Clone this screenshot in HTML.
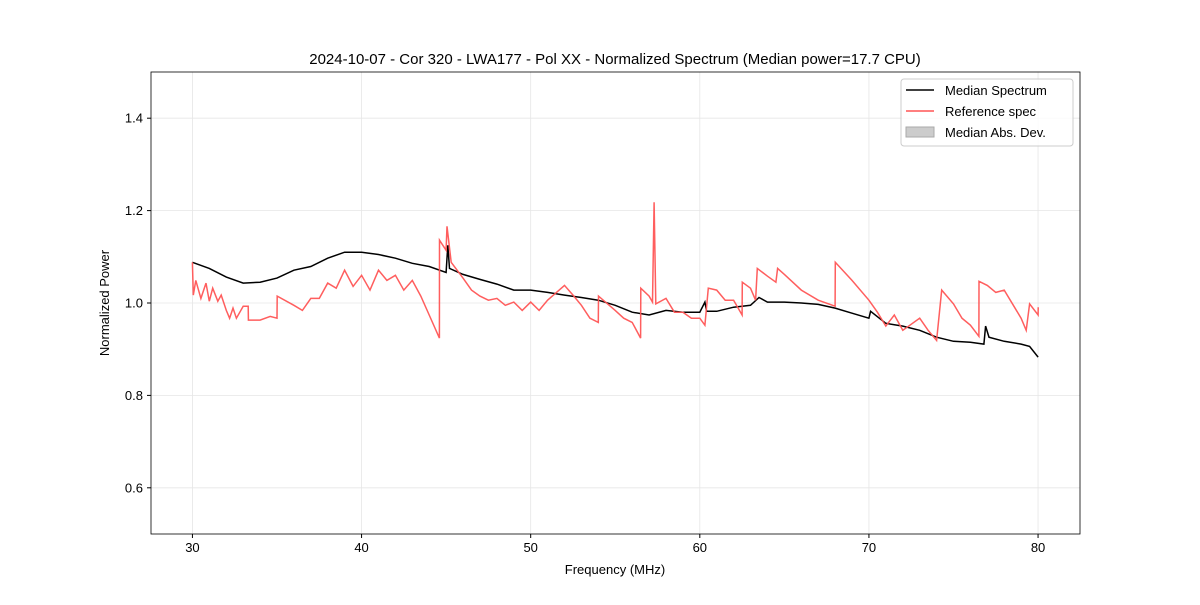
<!DOCTYPE html>
<html><head><meta charset="utf-8">
<style>
body{margin:0;background:#fff;font-family:"Liberation Sans","DejaVu Sans",sans-serif;}
svg text{font-family:"Liberation Sans","DejaVu Sans",sans-serif;}
</style></head>
<body>
<svg id="chart" width="1200" height="600" xmlns="http://www.w3.org/2000/svg">
<rect width="1200" height="600" fill="#fff"/>
<g id="grid"></g>
<g id="series"></g>
<rect x="151" y="72" width="929" height="462" fill="none" stroke="#000" stroke-width="0.8"/>
<g id="ticks"></g>
<text x="615" y="64" text-anchor="middle" font-size="15">2024-10-07 - Cor 320 - LWA177 - Pol XX - Normalized Spectrum (Median power=17.7 CPU)</text>
<text x="615" y="574" text-anchor="middle" font-size="13">Frequency (MHz)</text>
<text transform="translate(109,303) rotate(-90)" text-anchor="middle" font-size="13">Normalized Power</text>
<g>
<rect x="901" y="79" width="172" height="67" rx="3" fill="#fff" fill-opacity="0.8" stroke="#ccc"/>
<line x1="906" y1="90" x2="934" y2="90" stroke="#000" stroke-width="1.5"/>
<text x="945" y="95" font-size="13">Median Spectrum</text>
<line x1="906" y1="111" x2="934" y2="111" stroke="#ff5555" stroke-width="1.5"/>
<text x="945" y="116" font-size="13">Reference spec</text>
<rect x="906" y="127" width="28" height="10" fill="#ccc" stroke="#aaa"/>
<text x="945" y="137" font-size="13">Median Abs. Dev.</text>
</g>
</svg>
<script>
const xTicks=[30,40,50,60,70,80];
const yTicks=[0.6,0.8,1.0,1.2,1.4];
const yTickLabels=["0.6","0.8","1.0","1.2","1.4"];
const medianFreq=[30,31,32,33,34,35,36,37,38,39,40,41,42,43,44,45,45.1,45.2,46,47,48,49,50,51,52,53,54,55,56,57,58,59,60,60.3,60.4,61,62,63,63.5,64,65,66,67,68,69,70,70.1,71,72,73,74,75,76,76.8,76.9,77.1,78,79,79.5,80];
const medianVal=[1.088,1.075,1.056,1.043,1.045,1.054,1.071,1.079,1.097,1.110,1.110,1.105,1.097,1.086,1.079,1.066,1.125,1.075,1.062,1.051,1.041,1.028,1.028,1.023,1.017,1.012,1.006,0.995,0.980,0.974,0.984,0.980,0.980,1.002,0.982,0.982,0.991,0.995,1.012,1.002,1.002,1.000,0.997,0.989,0.978,0.967,0.982,0.956,0.950,0.941,0.926,0.917,0.915,0.911,0.950,0.926,0.917,0.911,0.906,0.883];
const refFreq=[30,30.05,30.2,30.5,30.8,31,31.2,31.5,31.7,32,32.2,32.4,32.6,33,33.3,33.31,34,34.6,35,35.01,36,36.5,37,37.5,38,38.5,39,39.5,40,40.5,41,41.5,42,42.5,43,43.5,44,44.6,44.61,45,45.05,45.3,46,46.5,47,47.5,48,48.5,49,49.5,50,50.5,51,52,52.5,53,53.5,54,54.01,55,55.5,56,56.5,56.51,57,57.2,57.3,57.4,58,58.5,59,59.5,60,60.3,60.5,61,61.5,62,62.5,62.51,63,63.3,63.4,64,64.5,64.6,65,66,67,68,68.01,69,70,70.5,71,71.5,72,73,73.5,74,74.3,75,75.5,76,76.5,76.51,77,77.5,78,79,79.3,79.5,80,80.01];
const refVal=[1.088,1.017,1.049,1.010,1.043,1.004,1.032,1.004,1.017,0.984,0.967,0.989,0.967,0.993,0.993,0.963,0.963,0.971,0.967,1.015,0.995,0.984,1.010,1.010,1.043,1.032,1.071,1.036,1.060,1.028,1.071,1.049,1.060,1.028,1.049,1.015,0.974,0.924,1.136,1.114,1.166,1.088,1.054,1.028,1.015,1.006,1.010,0.995,1.002,0.984,1.002,0.984,1.006,1.038,1.017,0.995,0.967,0.958,1.015,0.984,0.967,0.958,0.924,1.032,1.015,1.002,1.218,0.998,1.010,0.980,0.980,0.967,0.967,0.952,1.032,1.028,1.006,1.006,0.974,1.045,1.032,1.006,1.075,1.058,1.045,1.075,1.062,1.028,1.006,0.993,1.088,1.049,1.006,0.980,0.950,0.974,0.941,0.967,0.941,0.919,1.028,0.998,0.967,0.952,0.928,1.047,1.038,1.023,1.028,0.967,0.941,0.998,0.974,0.991];
const X0=151,X1=1080,Y0=534,Y1=72,xmin=27.55,xmax=82.48,ymin=0.5,ymax=1.5;
const sx=v=>X0+(v-xmin)/(xmax-xmin)*(X1-X0);
const sy=v=>Y0-(v-ymin)/(ymax-ymin)*(Y0-Y1);
const NS="http://www.w3.org/2000/svg";
const grid=document.getElementById('grid'),ticks=document.getElementById('ticks'),series=document.getElementById('series');
function mk(t,a){const e=document.createElementNS(NS,t);for(const k in a)e.setAttribute(k,a[k]);return e;}
xTicks.forEach(v=>{
 const g=mk('line',{x1:sx(v),x2:sx(v),y1:Y1,y2:Y0,stroke:'#e6e6e6','stroke-width':0.8});
 
 
 grid.appendChild(g);
 const t=mk('line',{x1:sx(v),x2:sx(v),y1:Y0,y2:Y0+4,stroke:'#000'});
 
 
 ticks.appendChild(t);
 const l=mk('text',{x:sx(v),y:Y0+18,'text-anchor':'middle','font-size':13});
 
 
 l.textContent=v;ticks.appendChild(l);
});
yTicks.forEach((v,i)=>{
 const g=mk('line',{x1:X0,x2:X1,y1:sy(v),y2:sy(v),stroke:'#e6e6e6','stroke-width':0.8});
 
 
 grid.appendChild(g);
 const t=mk('line',{x1:X0-4,x2:X0,y1:sy(v),y2:sy(v),stroke:'#000'});
 
 
 ticks.appendChild(t);
 const l=mk('text',{x:X0-8,y:sy(v)+4.5,'text-anchor':'end','font-size':13});
 
 
 l.textContent=yTickLabels[i];ticks.appendChild(l);
});
function path(xs,ys){return xs.map((x,i)=>(i?'L':'M')+sx(x).toFixed(1)+' '+sy(ys[i]).toFixed(1)).join(' ');}
const med=mk('path',{d:path(medianFreq,medianVal),fill:'none',stroke:'#000','stroke-width':1.5});


series.appendChild(med);
const ref=mk('path',{d:path(refFreq,refVal),fill:'none',stroke:'#ff5555','stroke-width':1.5,'stroke-opacity':0.95});


series.appendChild(ref);
</script>
</body></html>
